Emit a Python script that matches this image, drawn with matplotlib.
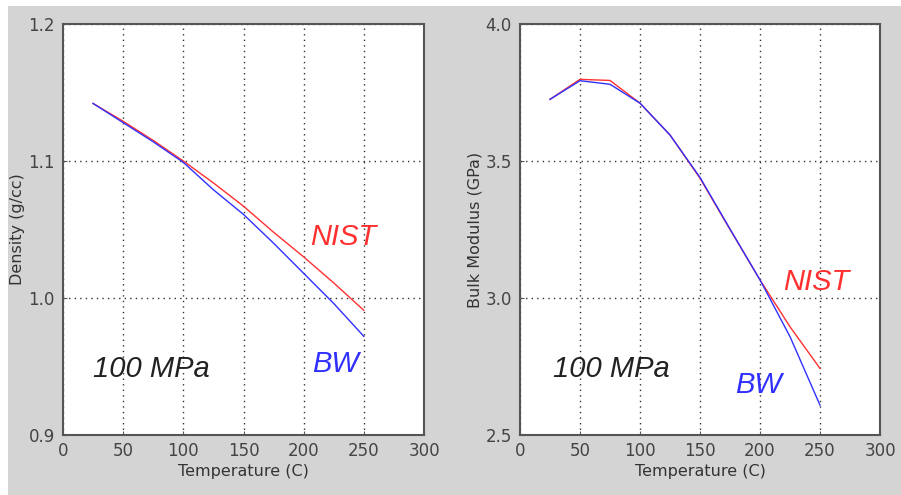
import matplotlib
matplotlib.use("Agg")
import matplotlib.pyplot as plt
from matplotlib.patches import Rectangle

temps = [25, 50, 75, 100, 125, 150, 175, 200, 225, 250]
density_nist = [1.142, 1.129, 1.115, 1.100, 1.084, 1.067, 1.048, 1.030, 1.011, 0.991]
density_bw = [1.142, 1.128, 1.114, 1.099, 1.079, 1.061, 1.040, 1.018, 0.996, 0.972]
bulk_nist = [3.725, 3.798, 3.794, 3.711, 3.595, 3.437, 3.250, 3.066, 2.895, 2.743]
bulk_bw = [3.725, 3.793, 3.780, 3.711, 3.595, 3.440, 3.252, 3.066, 2.859, 2.609]

x_ticks = [0, 50, 100, 150, 200, 250, 300]
dens_ticks = [0.9, 1.0, 1.1, 1.2]
bulk_ticks = [2.5, 3.0, 3.5, 4.0]

W, H = 901, 495
fig = plt.figure(figsize=(W / 100, H / 100), dpi=100, facecolor='white')
fig.patches.append(Rectangle((8 / W, 0), 1 - 8 / W, 1 - 6 / H, transform=fig.transFigure,
                             facecolor='#d4d4d4', edgecolor='none', zorder=-10))

red = '#ff3030'
blue = '#3030ff'
tick_col = '#444444'


def style(ax, yticks, ylabel, yfmt, ylabelpad):
    ax.set_facecolor('white')
    ax.set_xlim(0, 300)
    ax.set_ylim(yticks[0], yticks[-1])
    ax.set_xticks(x_ticks)
    ax.set_yticks(yticks)
    ax.set_yticklabels([yfmt.format(v) for v in yticks])
    ax.grid(True, color='#333333', linestyle=(0, (1, 3)), linewidth=1.0)
    ax.tick_params(direction='in', length=3, color='#555555', labelsize=12,
                   labelcolor=tick_col)
    ax.tick_params(axis='x', pad=5)
    ax.tick_params(axis='y', pad=6)
    for s in ax.spines.values():
        s.set_color('#555555')
        s.set_linewidth(1.5)
    ax.set_xlabel('Temperature (C)', fontsize=11.5, color='#333333', labelpad=3)
    ax.set_ylabel(ylabel, fontsize=11.5, color='#333333', labelpad=ylabelpad)


big = 21

ax1 = fig.add_axes([63 / W, 1 - 435 / H, 361 / W, 411 / H])
ax1.plot(temps, density_nist, color=red, lw=1.0)
ax1.plot(temps, density_bw, color=blue, lw=1.0)
style(ax1, dens_ticks, 'Density (g/cc)', '{:.1f}', 2)
ax1.text(205, 1.0445, 'NIST', color=red, fontsize=big, style='italic',
         family='Liberation Sans', va='center', ha='left')
ax1.text(207, 0.952, 'BW', color=blue, fontsize=big, style='italic',
         family='Liberation Sans', va='center', ha='left')
ax1.text(25, 0.948, '100 MPa', color='#222222', fontsize=big, style='italic',
         family='Liberation Sans', va='center', ha='left')

ax2 = fig.add_axes([520 / W, 1 - 435 / H, 360 / W, 411 / H])
ax2.plot(temps, bulk_nist, color=red, lw=1.0)
ax2.plot(temps, bulk_bw, color=blue, lw=1.0)
style(ax2, bulk_ticks, 'Bulk Modulus (GPa)', '{:.1f}', 2)
ax2.text(219, 3.058, 'NIST', color=red, fontsize=big, style='italic',
         family='Liberation Sans', va='center', ha='left')
ax2.text(179, 2.683, 'BW', color=blue, fontsize=big, style='italic',
         family='Liberation Sans', va='center', ha='left')
ax2.text(27.5, 2.741, '100 MPa', color='#222222', fontsize=big, style='italic',
         family='Liberation Sans', va='center', ha='left')

fig.savefig('out.png', dpi=100, facecolor=fig.get_facecolor())
